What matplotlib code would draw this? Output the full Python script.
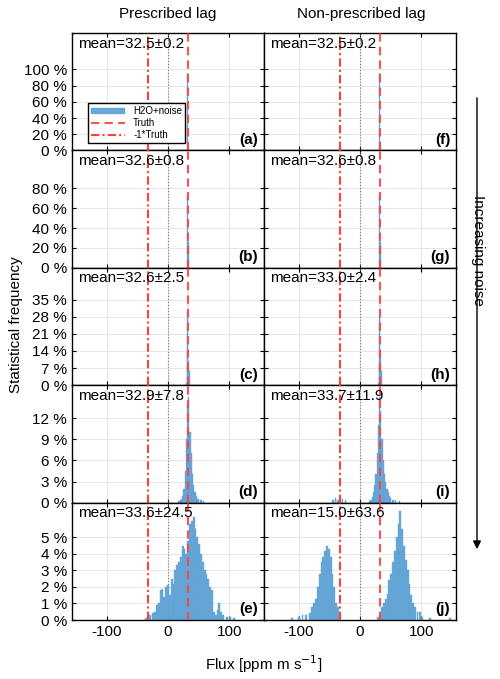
import matplotlib
matplotlib.use("Agg")
import matplotlib.pyplot as plt
import numpy as np
from matplotlib.ticker import FuncFormatter

plt.rcParams["font.family"] = ["Liberation Sans", "DejaVu Sans"]
plt.rcParams["axes.unicode_minus"] = False

truth = 32.5
means = ["mean=32.5±0.2", "mean=32.6±0.8", "mean=32.6±2.5", "mean=32.9±7.8", "mean=33.6±24.5",
         "mean=32.5±0.2", "mean=32.6±0.8", "mean=33.0±2.4", "mean=33.7±11.9", "mean=15.0±63.6"]
labels = ["(a)", "(b)", "(c)", "(d)", "(e)", "(f)", "(g)", "(h)", "(i)", "(j)"]

# histogram bins: (centers, frequency in %, bin width)
a_x = [32.0]; a_y = [95]
b_x = [31.5, 33.0]; b_y = [72, 26]
c_x = [30, 31, 32, 33, 34, 35, 36]; c_y = [1, 13, 30, 39, 10, 6, 1]
d_x = [18, 20, 22, 24, 26, 28, 30, 32, 34, 36, 38, 40, 42, 44, 46, 48, 50, 54, 58]
d_y = [0.2, 0.3, 0.5, 1, 2, 4.5, 9, 14, 15, 10, 7, 4, 2.5, 1.5, 1, 0.5, 0.5, 0.3, 0.2]
e_x = [-36, -30, -24, -21, -18, -15, -12, -9, -6, -3, 0, 3, 6, 9, 12, 15, 18, 21, 24, 27, 30, 33, 36, 39, 42, 45,
       48, 51, 54, 57, 60, 63, 66, 69, 72, 75, 78, 81, 84, 87, 90, 96, 102, 108]
e_y = [0.1, 0.3, 0.4, 0.5, 0.9, 1.0, 1.8, 1.9, 1.4, 2.0, 2.1, 1.5, 2.5, 2.2, 3.0, 3.3, 3.5, 3.8, 4.5, 4.3, 4.0,
       4.8, 5.8, 6.0, 6.2, 5.5, 5.0, 4.6, 4.0, 3.5, 3.0, 2.8, 2.5, 2.0, 1.8, 0.5, 0.3, 0.6, 1.0, 0.5, 0.3, 0.2, 0.2, 0.1]
f_x = [32.0]; f_y = [95]
g_x = [31.5, 33.0]; g_y = [72, 26]
h_x = [30, 31, 32, 33, 34, 35, 36]; h_y = [1, 10, 28, 42, 11, 6, 1]
i_x = [-44, -40, -36, -32, -28, -24, 16, 18, 20, 22, 24, 26, 28, 30, 32, 34, 36, 38, 40, 42, 44, 46, 48, 50, 54, 58, 64]
i_y = [0.3, 0.6, 0.4, 0.8, 0.5, 0.3, 0.2, 0.4, 0.8, 1.5, 2.5, 4, 7, 11, 15, 13, 9, 6, 4, 3, 2, 1.5, 1, 0.7, 0.4, 0.3, 0.2]
j_x = [-111, -100, -94, -88, -82, -78, -75, -72, -69, -66, -63, -60, -57, -54, -51, -48, -45, -42, -39, -36, -33,
       30, 33, 36, 39, 42, 45, 48, 51, 54, 57, 60, 63, 66, 69, 72, 75, 78, 81, 84, 87, 90, 94, 98, 102, 114, 147]
j_y = [0.1, 0.2, 0.3, 0.3, 0.4, 0.8, 1.0, 1.3, 2.0, 2.8, 3.5, 3.8, 4.2, 4.5, 4.3, 3.8, 2.8, 2.0, 1.0, 0.8, 0.3,
       0.2, 0.3, 0.8, 1.0, 1.3, 1.6, 2.4, 2.8, 3.5, 4.2, 5.0, 5.8, 6.6, 5.5, 4.5, 3.6, 3.0, 2.2, 1.5, 1.0, 0.8, 0.5, 0.5, 0.2, 0.1, 0.1]

hists = [(a_x, a_y, 1.2), (b_x, b_y, 1.5), (c_x, c_y, 1), (d_x, d_y, 2), (e_x, e_y, 3),
         (f_x, f_y, 1.2), (g_x, g_y, 1.5), (h_x, h_y, 1), (i_x, i_y, 2), (j_x, j_y, 3)]
ylims = [145, 118, 48, 16.7, 7.1]
yticks = [[0, 20, 40, 60, 80, 100], [0, 20, 40, 60, 80], [0, 7, 14, 21, 28, 35], [0, 3, 6, 9, 12], [0, 1, 2, 3, 4, 5]]

W, H = 500, 679
fig = plt.figure(figsize=(5, 6.79), dpi=100)
col_left = [72, 264]
aw = 192
top0, rh = 33, 117.4
blue = "#5fa3d6"
pct = FuncFormatter(lambda v, p: f"{v:g} %")

for c in range(2):
    for r in range(5):
        k = c * 5 + r
        ax = fig.add_axes([col_left[c] / W, 1 - (top0 + rh * (r + 1)) / H, aw / W, rh / H])
        xs, ys, w = hists[k]
        hb = ax.bar(xs, ys, width=w, color=blue, edgecolor=blue, linewidth=0.3, alpha=0.95, zorder=2)
        ht = ax.axvline(truth, color="#ff4040", ls=(0, (4, 2.5)), lw=1.5, zorder=3, alpha=0.9)
        hm = ax.axvline(-truth, color="#ff4040", ls=(0, (4, 1.5, 1, 1.5)), lw=1.5, zorder=3)
        ax.axvline(0, color="#777777", ls=":", lw=0.8, zorder=1)
        ax.set_xlim(-157, 157)
        ax.set_ylim(0, ylims[r])
        ax.set_xticks([-100, 0, 100])
        ax.set_yticks(yticks[r])
        ax.yaxis.set_major_formatter(pct)
        ax.grid(True, color="#e6e6e6", lw=0.7, zorder=0)
        ax.set_axisbelow(True)
        ax.tick_params(direction="in", top=True, right=True, length=3, labelsize=11, colors="black")
        for s in ax.spines.values():
            s.set_linewidth(1.0)
        if c == 1:
            ax.set_yticklabels([])
        if r < 4:
            ax.set_xticklabels([])
        ax.text(0.03, 0.97, means[k], transform=ax.transAxes, ha="left", va="top", fontsize=11)
        ax.text(0.97, 0.03, labels[k], transform=ax.transAxes, ha="right", va="bottom", fontsize=11, fontweight="bold")
        if k == 0:
            ax.legend([hb, ht, hm], ["H2O+noise", "Truth", "-1*Truth"], loc="lower left",
                      bbox_to_anchor=(0.06, 0.02), fontsize=7, frameon=True, fancybox=False,
                      edgecolor="black", handlelength=3.5, borderpad=0.3, labelspacing=0.2, framealpha=1)

fig.text(168 / W, 1 - 14 / H, "Prescribed lag", ha="center", va="center", fontsize=11)
fig.text(361 / W, 1 - 14 / H, "Non-prescribed lag", ha="center", va="center", fontsize=11)
fig.text(264 / W, 1 - 664 / H, "Flux [ppm m s$^{-1}$]", ha="center", va="center", fontsize=11)
fig.text(16 / W, 1 - 325 / H, "Statistical frequency", ha="center", va="center", rotation=90, fontsize=11)
fig.text(478 / W, 1 - 250 / H, "Increasing noise", ha="center", va="center", rotation=-90, fontsize=11)
fig.add_artist(matplotlib.patches.FancyArrowPatch((477 / W, 1 - 95 / H), (477 / W, 1 - 552 / H),
               transform=fig.transFigure, arrowstyle="-|>", mutation_scale=12, color="black", lw=1))
fig.savefig("out.png", dpi=100)
